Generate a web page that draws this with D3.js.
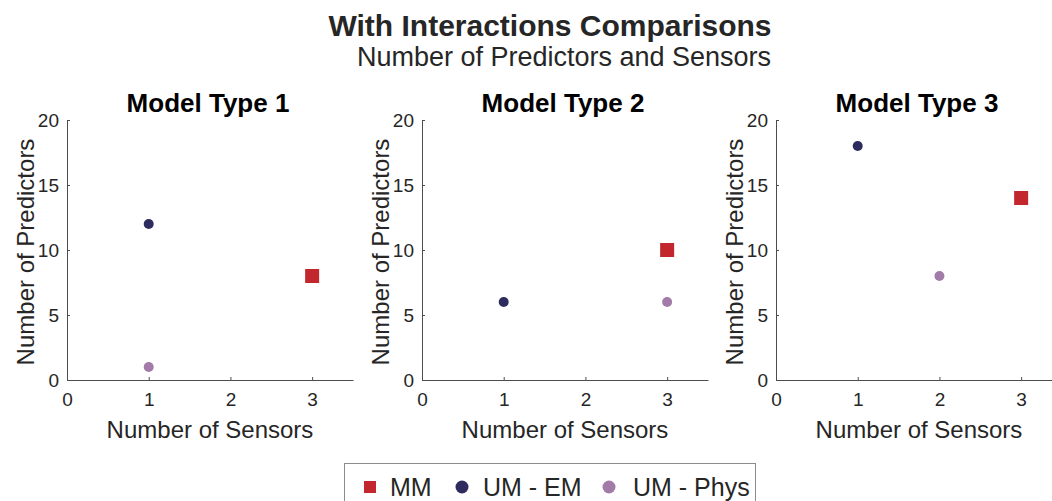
<!DOCTYPE html>
<html>
<head>
<meta charset="utf-8">
<script src="https://cdn.jsdelivr.net/npm/d3@7"></script>
<style>
	body { margin: 0; background: #fff; }
	svg { font-family: "Liberation Sans", Arial, sans-serif; }
</style>
</head>
<body>
<svg id="chart" width="1052" height="501"></svg>
<script>
// data
var panels = ['Model Type 1', 'Model Type 2', 'Model Type 3'];
var seriesNames = ['MM', 'UM - EM', 'UM - Phys'];
var seriesColors = ['#c1272d', '#2e2b5e', '#a27ba9'];
// [sensors, predictors] per panel
var mmPoints = [[3, 8], [3, 10], [3, 14]];
var emPoints = [[1, 12], [1, 6], [1, 18]];
var physPoints = [[1, 1], [3, 6], [2, 8]];
var xTicks = [0, 1, 2, 3];
var yTicks = [0, 5, 10, 15, 20];

var svg = d3.select('#chart');
var textColor = '#262626';
var axisColor = '#4d4d4d';

svg.append('text')
	.attr('x', 550).attr('y', 36)
	.attr('text-anchor', 'middle')
	.style('font-size', '30px').style('font-weight', 'bold')
	.attr('fill', textColor)
	.text('With Interactions Comparisons');
svg.append('text')
	.attr('x', 564).attr('y', 66)
	.attr('text-anchor', 'middle')
	.style('font-size', '27px')
	.attr('fill', textColor)
	.text('Number of Predictors and Sensors');

var panelLeft = [67, 422, 776];
var plotTop = 120, plotBottom = 380;
var axisWidth = 286;

panels.forEach(function(name, i) {
	var x = d3.scaleLinear().domain([0, 3.5]).range([panelLeft[i], panelLeft[i] + axisWidth]);
	var y = d3.scaleLinear().domain([0, 20]).range([plotBottom, plotTop]);
	var g = svg.append('g');

	var xa = g.append('g')
		.attr('transform', 'translate(0,' + plotBottom + ')')
		.call(d3.axisBottom(x).tickValues(xTicks).tickFormat(d3.format('d'))
			.tickSizeInner(-3).tickSizeOuter(0).tickPadding(13));
	var ya = g.append('g')
		.attr('transform', 'translate(' + panelLeft[i] + ',0)')
		.call(d3.axisLeft(y).tickValues(yTicks).tickFormat(d3.format('d'))
			.tickSizeInner(-3).tickSizeOuter(0).tickPadding(8));
	[xa, ya].forEach(function(a) {
		a.select('.domain').attr('stroke', axisColor);
		a.selectAll('line').attr('stroke', axisColor);
		a.selectAll('text').attr('fill', textColor).style('font-size', '19px')
			.style('font-family', '"Liberation Sans", Arial, sans-serif');
	});

	g.append('text')
		.attr('x', panelLeft[i] + axisWidth / 2 - 2).attr('y', 112)
		.attr('text-anchor', 'middle')
		.style('font-size', '26px').style('font-weight', 'bold')
		.attr('fill', '#000')
		.text(name);
	g.append('text')
		.attr('x', panelLeft[i] + axisWidth / 2).attr('y', 438)
		.attr('text-anchor', 'middle')
		.style('font-size', '24px')
		.attr('fill', textColor)
		.text('Number of Sensors');
	g.append('text')
		.attr('transform', 'translate(' + (panelLeft[i] - 33) + ',' + ((plotBottom + plotTop) / 2 + 2) + ') rotate(-90)')
		.attr('text-anchor', 'middle')
		.style('font-size', '24px')
		.attr('fill', textColor)
		.text('Number of Predictors');

	// MM squares, UM circles
	var sq = 14;
	g.append('rect')
		.attr('x', x(mmPoints[i][0]) - sq / 2)
		.attr('y', y(mmPoints[i][1]) - sq / 2)
		.attr('width', sq).attr('height', sq)
		.attr('fill', seriesColors[0]);
	g.append('circle')
		.attr('cx', x(emPoints[i][0])).attr('cy', y(emPoints[i][1]))
		.attr('r', 5).attr('fill', seriesColors[1]);
	g.append('circle')
		.attr('cx', x(physPoints[i][0])).attr('cy', y(physPoints[i][1]))
		.attr('r', 5).attr('fill', seriesColors[2]);
});

// legend
var lg = svg.append('g');
lg.append('rect')
	.attr('x', 344.5).attr('y', 463.5)
	.attr('width', 411).attr('height', 50)
	.attr('fill', '#fff').attr('stroke', '#8c8c8c');
var itemX = [[370, 390], [462, 483], [609, 633]];
seriesNames.forEach(function(s, i) {
	if (i === 0) {
		lg.append('rect').attr('x', itemX[i][0] - 6).attr('y', 481)
			.attr('width', 12).attr('height', 12).attr('fill', seriesColors[i]);
	} else {
		lg.append('circle').attr('cx', itemX[i][0]).attr('cy', 487)
			.attr('r', 6.5).attr('fill', seriesColors[i]);
	}
	lg.append('text')
		.attr('x', itemX[i][1]).attr('y', 496)
		.style('font-size', '25px')
		.attr('fill', textColor)
		.text(s);
});
</script>
</body>
</html>
